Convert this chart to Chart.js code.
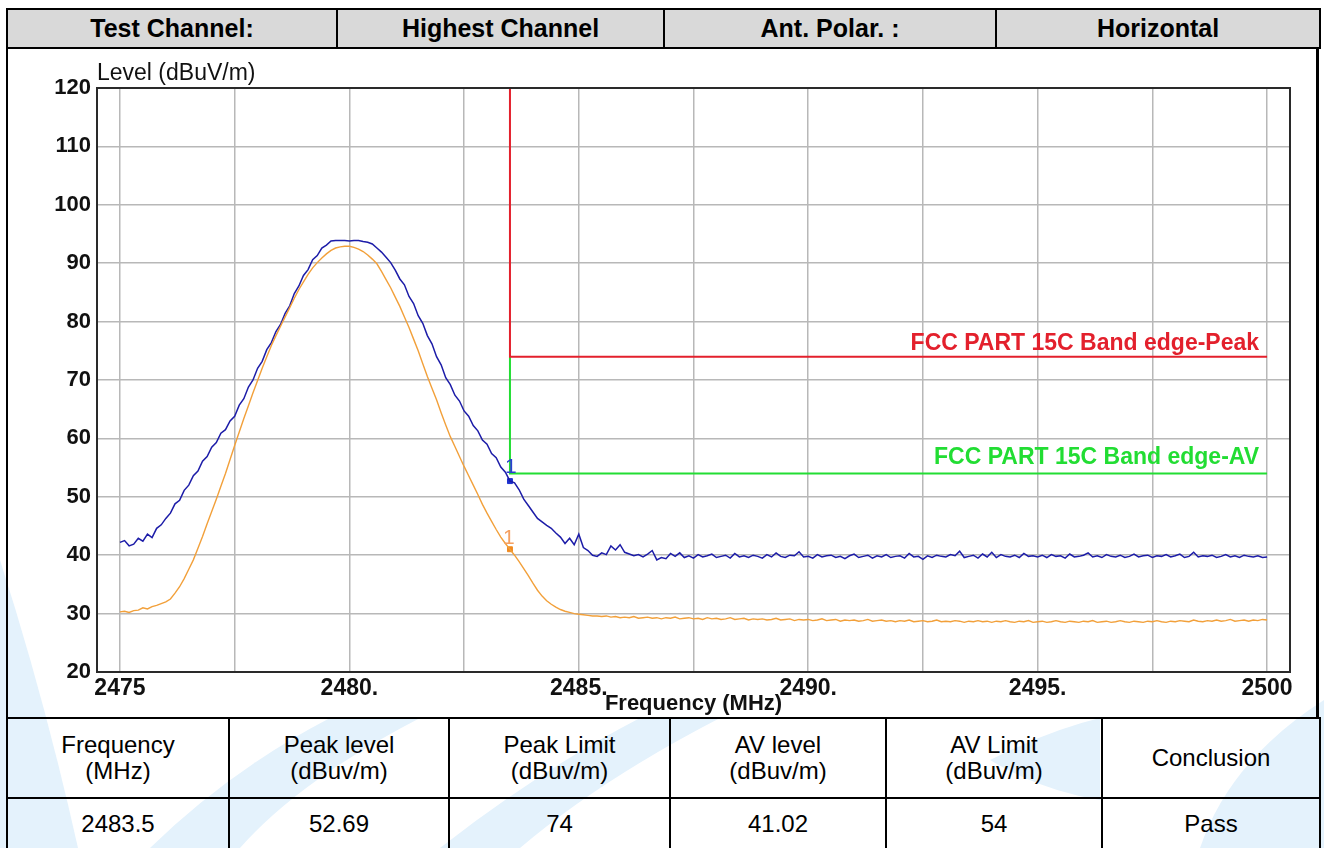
<!DOCTYPE html>
<html>
<head>
<meta charset="utf-8">
<script src="https://cdn.jsdelivr.net/npm/chart.js@4/dist/chart.umd.min.js"></script>
<style>
  html, body { margin:0; padding:0; background:#fff; width:1324px; height:848px; overflow:hidden; }
  body { position:relative; font-family:'Liberation Sans', Arial, sans-serif; }
  #wm { position:absolute; left:0; top:0; z-index:0; }
  #panel { position:absolute; left:6px; top:48px; width:1313px; height:670px; box-sizing:border-box;
           border-left:2px solid #000; border-right:3px solid #000; z-index:1; }
  table { border-collapse:collapse; position:absolute; z-index:2; table-layout:fixed; }
  #head { left:6px; top:8px; width:1313px; height:41px; }
  #head td { background:#d9d9d9; border:2px solid #000; font-weight:bold; font-size:25px; text-align:center; padding:0; color:#000; }
  #res { left:6px; top:717px; width:1313px; }
  #res td { border:2px solid #000; font-size:24px; text-align:center; padding:0; line-height:26px; color:#000; }
  #res tr.r1 td { height:78px; }
  #res tr.r2 td { height:49px; }
  #chartBox { position:absolute; left:0; top:0; width:1324px; height:848px; z-index:3; }
</style>
</head>
<body>
<svg id="wm" width="1324" height="848" viewBox="0 0 1324 848">
  <g fill="#e4f2fc">
    <path d="M0,560 Q45,700 78,848 L0,848 Z"/>
    <path d="M150,848 Q230,770 330,718 L420,718 Q300,780 240,848 Z"/>
    <path d="M440,848 Q540,770 640,718 L720,718 Q600,780 520,848 Z"/>
    <path d="M990,760 Q1050,730 1100,718 L1100,800 Q1040,790 990,760 Z"/>
    <path d="M1200,848 Q1230,760 1324,700 L1324,848 Z"/>
  </g>
</svg>
<div id="panel"></div>
<table id="head">
  <colgroup><col style="width:330px"><col style="width:327px"><col style="width:332px"><col style="width:324px"></colgroup>
  <tr id="headRow"></tr>
</table>
<div id="chartBox"><canvas id="c" width="1324" height="848"></canvas></div>
<table id="res">
  <colgroup><col style="width:222px"><col style="width:220px"><col style="width:221px"><col style="width:216px"><col style="width:216px"><col style="width:218px"></colgroup>
  <tr class="r1" id="resHead"></tr>
  <tr class="r2" id="resVals"></tr>
</table>
<script>
// ---------- header / result table text ----------
const headerCells = ['Test Channel:', 'Highest Channel', 'Ant. Polar. :', 'Horizontal'];
const resultHeaders = ['Frequency<br>(MHz)', 'Peak level<br>(dBuv/m)', 'Peak Limit<br>(dBuv/m)', 'AV level<br>(dBuv/m)', 'AV Limit<br>(dBuv/m)', 'Conclusion'];
const resultValues = ['2483.5', '52.69', '74', '41.02', '54', 'Pass'];

// ---------- chart data ----------
const freqs = [
2475.0,2475.1,2475.2,2475.3,2475.4,2475.5,2475.6,2475.7,2475.8,2475.9,
2476.0,2476.1,2476.2,2476.3,2476.4,2476.5,2476.6,2476.7,2476.8,2476.9,
2477.0,2477.1,2477.2,2477.3,2477.4,2477.5,2477.6,2477.7,2477.8,2477.9,
2478.0,2478.1,2478.2,2478.3,2478.4,2478.5,2478.6,2478.7,2478.8,2478.9,
2479.0,2479.1,2479.2,2479.3,2479.4,2479.5,2479.6,2479.7,2479.8,2479.9,
2480.0,2480.1,2480.2,2480.3,2480.4,2480.5,2480.6,2480.7,2480.8,2480.9,
2481.0,2481.1,2481.2,2481.3,2481.4,2481.5,2481.6,2481.7,2481.8,2481.9,
2482.0,2482.1,2482.2,2482.3,2482.4,2482.5,2482.6,2482.7,2482.8,2482.9,
2483.0,2483.1,2483.2,2483.3,2483.4,2483.5,2483.6,2483.7,2483.8,2483.9,
2484.0,2484.1,2484.2,2484.3,2484.4,2484.5,2484.6,2484.7,2484.8,2484.9,
2485.0,2485.1,2485.2,2485.3,2485.4,2485.5,2485.6,2485.7,2485.8,2485.9,
2486.0,2486.1,2486.2,2486.3,2486.4,2486.5,2486.6,2486.7,2486.8,2486.9,
2487.0,2487.1,2487.2,2487.3,2487.4,2487.5,2487.6,2487.7,2487.8,2487.9,
2488.0,2488.1,2488.2,2488.3,2488.4,2488.5,2488.6,2488.7,2488.8,2488.9,
2489.0,2489.1,2489.2,2489.3,2489.4,2489.5,2489.6,2489.7,2489.8,2489.9,
2490.0,2490.1,2490.2,2490.3,2490.4,2490.5,2490.6,2490.7,2490.8,2490.9,
2491.0,2491.1,2491.2,2491.3,2491.4,2491.5,2491.6,2491.7,2491.8,2491.9,
2492.0,2492.1,2492.2,2492.3,2492.4,2492.5,2492.6,2492.7,2492.8,2492.9,
2493.0,2493.1,2493.2,2493.3,2493.4,2493.5,2493.6,2493.7,2493.8,2493.9,
2494.0,2494.1,2494.2,2494.3,2494.4,2494.5,2494.6,2494.7,2494.8,2494.9,
2495.0,2495.1,2495.2,2495.3,2495.4,2495.5,2495.6,2495.7,2495.8,2495.9,
2496.0,2496.1,2496.2,2496.3,2496.4,2496.5,2496.6,2496.7,2496.8,2496.9,
2497.0,2497.1,2497.2,2497.3,2497.4,2497.5,2497.6,2497.7,2497.8,2497.9,
2498.0,2498.1,2498.2,2498.3,2498.4,2498.5,2498.6,2498.7,2498.8,2498.9,
2499.0,2499.1,2499.2,2499.3,2499.4,2499.5,2499.6,2499.7,2499.8,2499.9,
2500.0];

const peakLevel = [
42.2,42.5,41.6,41.9,42.9,42.4,43.6,43.0,44.6,45.2,
46.3,47.2,48.8,49.4,51.1,52.0,53.6,54.4,56.1,56.9,
58.5,59.3,60.9,61.5,63.0,63.8,65.7,66.8,68.8,70.0,
72.0,73.2,75.2,76.4,78.3,79.5,81.4,82.7,84.8,86.1,
87.9,88.9,90.6,91.3,92.6,93.1,93.8,93.9,93.9,93.9,
93.8,93.9,93.9,93.7,93.6,93.3,92.6,91.9,91.0,90.1,
88.8,87.3,86.3,84.3,83.1,81.0,79.7,77.6,76.2,74.0,
72.6,70.4,69.2,67.4,66.4,64.7,63.8,62.2,61.3,59.7,
59.0,57.4,56.7,55.1,54.2,52.7,52.4,51.2,49.6,48.5,
47.4,46.3,45.7,45.1,44.6,43.8,43.1,42.0,42.9,41.8,
43.6,41.3,40.8,40.0,39.8,40.4,40.1,41.6,40.9,41.8,
40.5,40.2,39.9,40.1,39.7,40.2,40.8,39.2,39.6,39.4,
40.3,39.8,40.4,39.6,39.9,39.5,40.1,39.7,39.9,40.2,
39.6,39.8,40.0,39.5,40.3,39.7,39.9,39.6,40.0,39.8,
39.5,40.1,39.7,40.4,39.8,39.6,40.0,39.9,40.6,39.7,
39.8,39.5,40.1,39.7,39.9,40.0,39.6,39.8,39.4,39.9,
40.2,39.6,39.8,40.0,39.5,39.9,39.7,40.1,39.6,39.8,
39.9,39.5,40.3,39.7,39.8,39.3,39.9,39.6,40.0,39.8,
39.7,40.1,39.9,40.7,39.6,39.8,40.0,39.5,40.2,39.7,
40.5,39.6,40.1,39.8,39.7,40.0,39.6,40.3,39.8,39.9,
39.7,40.0,39.6,40.1,39.8,39.9,39.5,40.2,39.7,39.8,
40.0,40.4,39.7,39.9,39.6,40.1,39.8,39.7,40.0,39.6,
39.8,40.2,39.7,39.9,40.0,39.6,39.9,39.8,40.1,39.7,
39.9,40.2,39.6,39.8,40.5,39.7,39.9,39.8,40.0,39.6,
39.8,40.1,39.7,39.9,39.6,40.0,39.8,39.7,39.9,39.6,
39.7];

const avLevel = [
30.3,30.4,30.2,30.5,30.6,31.0,30.8,31.2,31.4,31.7,
32.0,32.5,33.5,34.6,36.0,37.6,39.2,41.2,43.2,45.4,
47.5,49.6,51.8,54.0,56.4,58.8,61.1,63.4,65.6,67.8,
69.9,72.0,74.0,75.9,77.6,79.2,80.8,82.4,84.0,85.5,
86.8,88.1,89.2,90.1,90.9,91.6,92.2,92.6,92.8,92.9,
92.9,92.7,92.4,92.0,91.4,90.7,89.9,88.6,87.2,85.8,
84.2,82.6,80.8,79.0,77.0,75.0,72.8,70.6,68.6,66.6,
64.4,62.3,60.3,58.6,56.9,55.2,53.6,52.0,50.4,48.7,
47.2,45.8,44.4,43.1,42.0,41.0,40.0,38.9,37.7,36.5,
35.2,34.0,33.0,32.2,31.6,31.1,30.7,30.4,30.2,30.0,
29.9,29.8,29.7,29.6,29.6,29.5,29.6,29.4,29.5,29.3,
29.4,29.3,29.5,29.2,29.3,29.4,29.2,29.3,29.1,29.3,
29.2,29.4,29.1,29.2,29.3,29.1,29.2,29.0,29.3,29.1,
29.2,29.0,29.1,29.3,29.0,29.1,29.2,28.9,29.1,29.0,
29.1,28.9,29.0,29.2,28.9,29.0,29.1,28.8,29.0,28.9,
29.0,28.8,28.9,29.1,28.8,28.9,29.0,28.7,28.9,28.8,
28.9,28.7,28.8,29.0,28.7,28.8,28.9,28.7,28.8,28.6,
28.8,28.7,28.9,28.6,28.7,28.8,28.6,28.7,28.9,28.6,
28.7,28.6,28.8,28.7,28.5,28.7,28.6,28.8,28.6,28.7,
28.5,28.7,28.6,28.8,28.6,28.5,28.7,28.6,28.8,28.5,
28.6,28.7,28.5,28.6,28.8,28.6,28.5,28.7,28.6,28.5,
28.7,28.6,28.8,28.5,28.6,28.7,28.5,28.6,28.8,28.6,
28.5,28.7,28.6,28.5,28.7,28.6,28.8,28.6,28.5,28.7,
28.6,28.8,28.7,28.6,28.9,28.7,28.6,28.8,28.7,28.9,
28.7,28.8,29.0,28.7,28.8,28.9,28.7,28.9,28.8,29.0,
28.9];

// limit lines (step shape at the band edge)
const peakLimitFreq = [2483.5, 2483.5, 2500];
const peakLimitLevel = [120, 74, 74];
const avLimitFreq = [2483.5, 2483.5, 2500];
const avLimitLevel = [74, 54, 54];
const peakLimitName = 'FCC PART 15C Band edge-Peak';
const avLimitName = 'FCC PART 15C Band edge-AV';

// marker 1
const markerFreq = [2483.5];
const markerPeak = [52.69];
const markerAv = [41.02];
const markerLabel = ['1'];

// axes
const xGridValues = [2475, 2477.5, 2480, 2482.5, 2485, 2487.5, 2490, 2492.5, 2495, 2497.5, 2500];
const xTickValues = [2475, 2480, 2485, 2490, 2495, 2500];
const xTickLabels = ['2475', '2480.', '2485.', '2490.', '2495.', '2500'];
const yTickValues = [20, 30, 40, 50, 60, 70, 80, 90, 100, 110, 120];
const xTitle = 'Frequency (MHz)';
const yTitle = 'Level (dBuV/m)';

// ---------- tables ----------
document.getElementById('headRow').innerHTML = headerCells.map(t => '<td>' + t + '</td>').join('');
document.getElementById('resHead').innerHTML = resultHeaders.map(t => '<td>' + t + '</td>').join('');
document.getElementById('resVals').innerHTML = resultValues.map(t => '<td>' + t + '</td>').join('');

// ---------- chart ----------
const FONT = "'Liberation Sans', Arial, sans-serif";
const BLUE = '#1c1ca8', ORANGE = '#f2a03a', RED = '#e3202c', GREEN = '#22dd33';

const pairs = (xs, ys) => xs.map((x, i) => ({x: x, y: ys[i]}));

const framePlugin = {
  id: 'frame',
  beforeDraw(chart) {
    const a = chart.chartArea, c = chart.ctx;
    c.save(); c.fillStyle = '#ffffff'; c.fillRect(a.left, a.top, a.right - a.left, a.bottom - a.top); c.restore();
  },
  afterDatasetsDraw(chart) {
    const c = chart.ctx;
    const xs = chart.scales.x, ys = chart.scales.y;
    c.save();
    c.textAlign = 'right'; c.textBaseline = 'alphabetic';
    c.font = 'bold 23px ' + FONT;
    c.fillStyle = RED;
    c.fillText(peakLimitName, xs.getPixelForValue(peakLimitFreq[2]) - 8, ys.getPixelForValue(peakLimitLevel[2]) - 7);
    c.fillStyle = GREEN;
    c.fillText(avLimitName, xs.getPixelForValue(avLimitFreq[2]) - 8, ys.getPixelForValue(avLimitLevel[2]) - 9);
    c.textAlign = 'center';
    c.font = '21px ' + FONT;
    c.fillStyle = '#2a3fd0';
    c.fillText(markerLabel[0], xs.getPixelForValue(markerFreq[0]) + 1, ys.getPixelForValue(markerPeak[0]) - 8);
    c.fillStyle = '#f5a060';
    c.fillText(markerLabel[0], xs.getPixelForValue(markerFreq[0]) - 1, ys.getPixelForValue(markerAv[0]) - 5);
    c.restore();
  },
  afterDraw(chart) {
    const a = chart.chartArea, c = chart.ctx;
    c.save();
    c.strokeStyle = '#2a2a2a'; c.lineWidth = 2;
    c.strokeRect(a.left, a.top, a.right - a.left, a.bottom - a.top);
    c.font = '23px ' + FONT; c.fillStyle = '#111';
    c.textAlign = 'left'; c.textBaseline = 'alphabetic';
    c.fillText(yTitle, a.left, a.top - 8);
    c.restore();
  }
};

new Chart(document.getElementById('c'), {
  type: 'line',
  data: {
    datasets: [
      { label: 'Peak limit', data: pairs(peakLimitFreq, peakLimitLevel), borderColor: RED, borderWidth: 2, pointRadius: 0, tension: 0 },
      { label: 'AV limit', data: pairs(avLimitFreq, avLimitLevel), borderColor: GREEN, borderWidth: 2, pointRadius: 0, tension: 0 },
      { label: 'AV', data: pairs(freqs, avLevel), borderColor: ORANGE, borderWidth: 1.4, pointRadius: 0, tension: 0 },
      { label: 'Peak', data: pairs(freqs, peakLevel), borderColor: BLUE, borderWidth: 1.5, pointRadius: 0, tension: 0 },
      { label: 'Marker AV', data: pairs(markerFreq, markerAv), showLine: false, pointStyle: 'rect', pointRadius: 3.5, backgroundColor: '#f08a20', borderColor: '#f08a20' },
      { label: 'Marker Peak', data: pairs(markerFreq, markerPeak), showLine: false, pointStyle: 'rect', pointRadius: 3.5, backgroundColor: '#1c30d0', borderColor: '#1c30d0' }
    ]
  },
  options: {
    responsive: false,
    animation: false,
    devicePixelRatio: 1,
    layout: { padding: { left: 0, top: 88, right: 34, bottom: 130 } },
    plugins: { legend: { display: false }, tooltip: { enabled: false } },
    scales: {
      x: {
        type: 'linear', min: 2474.5, max: 2500.5,
        afterBuildTicks: s => { s.ticks = xGridValues.map(v => ({ value: v })); },
        afterFit: s => { s.height = 46; },
        grid: { color: '#b8b8b8', lineWidth: 1.5, drawTicks: false },
        border: { display: false },
        ticks: {
          autoSkip: false, maxRotation: 0, padding: 3, color: '#111',
          font: { family: FONT, size: 23, weight: 'bold' },
          callback: v => { const i = xTickValues.indexOf(v); return i >= 0 ? xTickLabels[i] : ''; }
        },
        title: { display: true, text: xTitle, color: '#111', padding: { top: 0, bottom: 3 },
                 font: { family: FONT, size: 22, weight: 'bold', lineHeight: 1 } }
      },
      y: {
        type: 'linear', min: 20, max: 120,
        afterBuildTicks: s => { s.ticks = yTickValues.map(v => ({ value: v })); },
        afterFit: s => { s.width = 97; },
        grid: { color: '#b8b8b8', lineWidth: 1.5, drawTicks: false },
        border: { display: false },
        ticks: { padding: 6, color: '#111', font: { family: FONT, size: 22, weight: 'bold' } }
      }
    }
  },
  plugins: [framePlugin]
});
</script>
</body>
</html>
